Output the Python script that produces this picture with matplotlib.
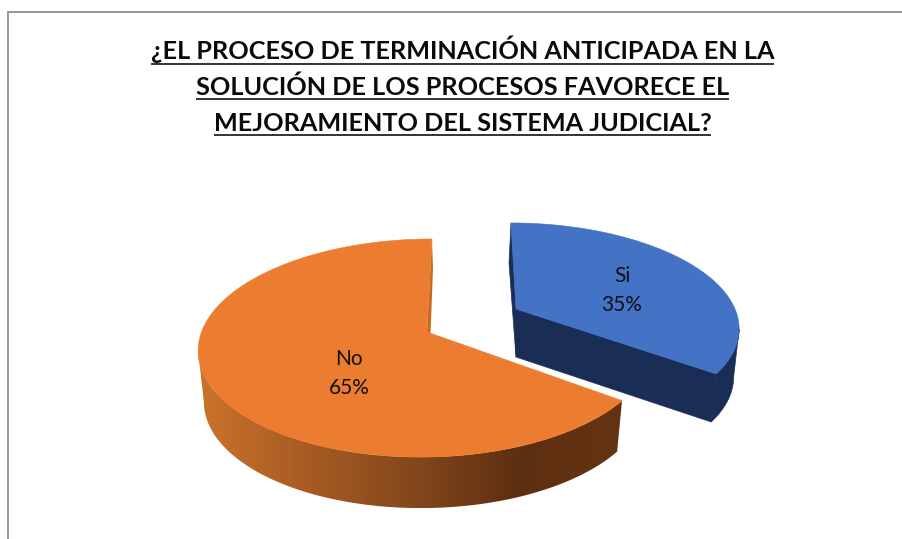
import numpy as np
import matplotlib
matplotlib.use("Agg")
import matplotlib.pyplot as plt
from matplotlib.patches import Polygon
from matplotlib.colors import LinearSegmentedColormap

# --- data ---
categories = ["Si", "No"]
values = [35, 65]
title_lines = ["¿EL PROCESO DE TERMINACIÓN ANTICIPADA EN LA",
               "SOLUCIÓN DE LOS PROCESOS FAVORECE EL",
               "MEJORAMIENTO DEL SISTEMA JUDICIAL?"]

# --- style / layout (pixel space of the canvas) ---
W, H = 902, 539
FONT = "Lato"
TOP_COL = ["#4472C4", "#EB7C30"]
WALL_COL = ["#1A2E55", "#C4691F"]
RIM_STOPS = [(0.0, "#CB732B"), (0.25, "#A85C23"), (0.5, "#85481C"),
             (0.75, "#5F2F11"), (1.0, "#633312")]
# per slice: apex, rim centre x, rim centre y, rx, ry, perspective, shear, depth
GEOM = [dict(apex=(516, 309), cx=518, cy=309, rx=217, ry=100, k=0.162, sh=-7, d=48),
        dict(apex=(427, 332), cx=426.3, cy=332, rx=224.8, ry=106.7, k=0.147, sh=5.7, d=51)]
LABEL_XY = [(622, 290.5), (349, 373.5)]
BOTTOM_SCALE = 0.975


def rim(g, theta):
    s = 1.0 / (1.0 + g["k"] * np.cos(theta))
    x = g["cx"] + g["rx"] * np.sin(theta) * s + g["sh"] * np.cos(theta)
    y = g["cy"] - g["ry"] * np.cos(theta) * s
    return x, y


def lower(g, x, y):
    return g["cx"] + (x - g["cx"]) * BOTTOM_SCALE, y + g["d"]


fig = plt.figure(figsize=(W / 100, H / 100), dpi=100, facecolor="white")
ax = fig.add_axes([0, 0, 1, 1])
ax.axis("off")

# chart frame: top and left edges only are visible in the crop
ax.plot([8, 8, W], [H, 11.5, 11.5], color="#8E8E8E", lw=1.3, solid_joinstyle="miter", zorder=1)

rim_cmap = LinearSegmentedColormap.from_list("rim", RIM_STOPS)
fractions = np.array(values) / np.sum(values)
edges = np.concatenate([[0], np.cumsum(fractions)]) * 2 * np.pi

for i, (cat, frac) in enumerate(zip(categories, fractions)):
    g = GEOM[i]
    a0, a1 = edges[i], edges[i + 1]
    th = np.linspace(a0, a1, 240)
    x, y = rim(g, th)
    xl, yl = lower(g, x, y)
    ax_, ay_ = g["apex"]

    if i == 0:
        # outer wall from the right silhouette point to the cut, cut face, back sliver
        j = int(np.argmax(x))
        ax.add_patch(Polygon(np.r_[np.c_[x[j:], y[j:]], np.c_[xl[j:], yl[j:]][::-1]],
                             fc=WALL_COL[0], ec=WALL_COL[0], lw=0.5, zorder=2))
        ax.add_patch(Polygon([(x[-1], y[-1]), (ax_, ay_), (ax_, ay_ + g["d"]), (xl[-1], yl[-1])],
                             fc=WALL_COL[0], ec=WALL_COL[0], lw=0.5, zorder=2))
        ax.add_patch(Polygon([(x[0], y[0]), (ax_, ay_), (ax_, ay_ + g["d"]), (x[0] - 2, y[0] + 40)],
                             fc=WALL_COL[0], ec=WALL_COL[0], lw=0.5, zorder=2))
    else:
        # back-wall sliver
        ax.add_patch(Polygon([(x[-1], y[-1]), (x[-1] + 1, y[-1] + 30), (ax_ + 3.5, ay_ + 1.5), (ax_, ay_)],
                             fc=WALL_COL[1], ec="none", zorder=2))
        # gradient outer wall: a horizontal ramp clipped to the wall up to the left silhouette point
        j = int(np.argmin(x)) + 1
        wall = Polygon(np.r_[np.c_[x[:j], y[:j]], np.c_[xl[:j], yl[:j]][::-1]],
                       fc="none", ec="none", transform=ax.transData)
        ax.add_patch(wall)
        ramp = np.linspace(0, 1, 512).reshape(1, -1)
        im = ax.imshow(ramp, cmap=rim_cmap, aspect="auto", zorder=2, interpolation="bilinear",
                       extent=(x[:j].min(), x[:j].max(), yl[:j].max(), y[:j].min()))
        im.set_clip_path(wall)

    ax.add_patch(Polygon(np.r_[[[ax_, ay_]], np.c_[x, y]], fc=TOP_COL[i], ec=TOP_COL[i], lw=0.4, zorder=3))

    lx, ly = LABEL_XY[i]
    ax.text(lx, ly, f"{cat}\n{frac * 100:.0f}%", ha="center", va="center", fontsize=15,
            family=FONT, color="#111111", linespacing=1.62, zorder=4)

ax.set_xlim(0, W)
ax.set_ylim(H, 0)

# title, each line with its underline
BASELINES = [59, 95, 131]
UNDERLINES = [63.5, 99, 135]
fig.canvas.draw()
rend = fig.canvas.get_renderer()
for line, by, uy in zip(title_lines, BASELINES, UNDERLINES):
    t = ax.text(462.5, by, line, ha="center", va="baseline", fontsize=18.15,
                fontweight="bold", family=FONT, color="#0A0A0A", zorder=5)
    bb = t.get_window_extent(rend)
    ax.plot([bb.x0, bb.x1], [uy, uy], color="#111111", lw=1.2, solid_capstyle="butt", zorder=5)

fig.savefig("out.png", dpi=100, facecolor="white")
